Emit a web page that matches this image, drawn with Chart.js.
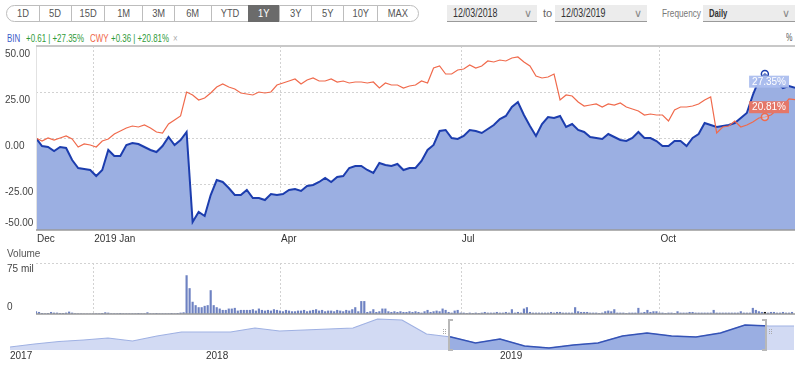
<!DOCTYPE html>
<html><head><meta charset="utf-8">
<script src="https://cdn.jsdelivr.net/npm/chart.js@4"></script>
<style>
body{margin:0;width:800px;height:365px;overflow:hidden;background:#fff;position:relative;font-family:"Liberation Sans",Arial,sans-serif;}
.abs{position:absolute;}
#btns{left:7px;top:5px;height:17px;display:flex;}
.btn{box-sizing:border-box;height:17px;border:1px solid #bdbdbd;margin-left:-1px;font-size:11px;color:#555;text-align:center;line-height:15px;background:#fff;}
.btn span{display:inline-block;transform:scaleX(0.85);transform-origin:center center;}
.btn.sel{background:#6b6b6b;color:#fff;border-color:#6b6b6b;}
.datebox{top:5px;height:17px;background:#ececec;border-bottom:1px solid #9a9a9a;box-sizing:border-box;font-size:12px;color:#333;line-height:16px;}
.datebox span.v{position:absolute;left:6px;transform:scaleX(0.74);transform-origin:left center;}
.datebox span.c{position:absolute;right:5px;color:#888;font-size:11px;}
.lg{top:31px;font-size:11px;line-height:14px;white-space:nowrap;transform:scaleX(0.72);transform-origin:left center;}
.nar{transform:scaleX(0.75);transform-origin:left center;white-space:nowrap;}
canvas{position:absolute;left:0;}
.hdl{position:absolute;box-sizing:border-box;border:2px solid #b8b8b8;}
.grip{position:absolute;width:1px;height:1px;background:#aaa;}
</style></head><body>
<div id="btns" class="abs"></div>
<div class="abs datebox" style="left:447px;width:90px;"><span class="v" id="d1"></span><span class="c">&#8744;</span></div>
<div class="abs" style="left:543px;top:5px;font-size:11px;line-height:17px;color:#666;">to</div>
<div class="abs datebox" style="left:555px;width:92px;"><span class="v" id="d2"></span><span class="c">&#8744;</span></div>
<div class="abs nar" style="left:662px;top:5px;font-size:11px;line-height:17px;color:#777;">Frequency</div>
<div class="abs datebox" style="left:703px;width:92px;"><span class="v" style="font-weight:bold;color:#333;font-size:11px;transform:scaleX(0.7);">Daily</span><span class="c">&#8744;</span></div>
<div class="abs lg" style="left:7px;color:#3b5cc8;" id="lgBin"></div>
<div class="abs lg" style="left:26px;color:#2f9b39;" id="lgBinChg"></div>
<div class="abs lg" style="left:90px;color:#ef6547;" id="lgCwy"></div>
<div class="abs lg" style="left:111px;color:#2f9b39;" id="lgCwyChg"></div>
<div class="abs lg" style="left:173px;color:#aaa;">&#215;</div>
<div class="abs lg" style="left:786px;color:#555;font-size:10px;">%</div>

<canvas id="main" width="800" height="208" style="top:40px;width:800px;height:208px;"></canvas>
<canvas id="vol" width="800" height="70" style="top:248px;width:800px;height:70px;"></canvas>
<canvas id="nav" width="800" height="49" style="top:316px;width:800px;height:49px;"></canvas>
<div id="navWrap" class="abs" style="top:316px;height:49px;overflow:hidden;">
  <canvas id="nav2" width="800" height="49" style="top:0;width:800px;height:49px;"></canvas>
</div>
<div id="hL" class="hdl" style="border-right:none;"></div>
<div id="hR" class="hdl" style="border-left:none;"></div>

<script>
// ---------- data ----------
const rangeButtons = ['1D','5D','15D','1M','3M','6M','YTD','1Y','3Y','5Y','10Y','MAX'];
const selectedRange = '1Y';
const dateFrom = '12/03/2018';
const dateTo = '12/03/2019';
const symbols = ['BIN','CWY'];
const priceChanges = ['+0.61','+0.36'];

// x axis: trading-day index; month ticks
const tickDays = [0, 19, 81, 141, 207];
const tickLabels = ['Dec', '2019 Jan', 'Apr', 'Jul', 'Oct'];
const yTicks = [-50, -25, 0, 25, 50];
const sampleStep = 2;   // trading days between samples
const lastDay = 252;
const hoverIdx = 121;

// % change since 12/03/2018, sampled every 2 trading days
const binValues = [0,-4.35,-4.89,-7.07,-4.89,-5.43,-11.96,-16.3,-16.85,-17.39,
-20.65,-17.39,-6.52,-9.78,-9.78,-3.8,-2.72,-3.26,-4.89,-6.52,
-7.61,-4.35,0.54,-3.8,-1.09,3.26,-45.65,-40.22,-42.39,-30.98,
-22.83,-23.91,-27.17,-30.98,-30.98,-28.26,-32.61,-32.61,-33.7,-30.43,
-30.98,-30.43,-28.26,-27.72,-28.8,-26.09,-25.54,-23.91,-21.74,-23.91,
-21.2,-20.65,-16.3,-15.22,-15.22,-17.39,-19.02,-13.59,-14.67,-15.22,
-14.13,-17.39,-16.3,-16.3,-12.5,-6.52,-3.8,3.8,4.35,0,
-0.54,1.09,4.35,3.8,2.72,4.89,7.07,10.33,11.96,16.85,
19.57,12.5,6.52,1.09,7.61,11.41,10.87,11.96,5.98,7.61,
4.35,3.26,0.54,0,-0.54,2.17,0.54,-1.09,-1.63,0,
3.26,0,0,-1.63,-4.35,-4.35,-1.63,-1.63,-4.35,0,
2.17,8.15,7.07,5.98,6.52,7.07,8.15,10.87,13.59,23.37,
31.52,34.78,32.07,29.89,27.17,28.26,27.35];

const cwyValues = [0,-1.63,0,-1.09,0,1.09,-0.54,-4.89,-3.26,-3.8,
-4.89,-1.63,-0.54,2.17,3.8,5.43,6.52,5.98,7.07,5.43,
3.26,2.72,7.61,9.78,11.96,25,23.37,20.65,21.74,24.46,
27.72,29.35,27.72,26.63,24.46,23.91,23.37,25,24.46,25,
28.8,29.89,30.98,32.07,29.35,31.52,32.61,30.98,30.98,32.07,
30.43,30.98,29.89,30.43,30.43,29.89,30.43,27.17,29.89,28.8,
28.8,27.17,28.26,28.8,30.98,29.89,38.04,39.13,34.78,34.78,
36.96,37.5,39.67,38.04,39.13,41.85,41.3,42.39,41.85,43.48,
44.02,41.3,39.13,33.7,32.61,33.15,34.78,20.65,23.37,22.83,
19.57,17.39,17.93,18.48,16.85,18.48,17.93,19.02,16.85,15.76,
14.67,12.5,13.04,12.5,12.5,9.24,15.22,16.85,16.85,17.39,
18.48,20.65,22.28,2.72,5.98,6.52,9.24,5.98,7.07,8.7,
10.87,11.41,12.5,15.22,17.39,21.2,20.81];

// daily volume (millions)
const volumeMil = [4,3,1.5,1,1.5,3,2,2,1.5,1.5,2,3.5,2,1,0.8,0.8,0.6,0.6,0.6,
0.8,1,1,1.5,2.5,2,1,1,1,1.5,1,1,1,1,1,1.5,1,1,2.5,1,1,1.5,1,1,1,1,1.5,1,1.5,2,2.5,
57,38,18,13,10,10,12,13,35,13,10,8,6,6,8,8,9,5,6,6,6,
6,7,5,8,6,5,6,5,7,6,5,4,6,5,4,4,5,5,6,4,5,6,7,5,6,4,5,
5,4,6,5,4,6,5,7,
10,4,19,19,3,4,
7,3,4,8,8,4,3,4,3,4,3,3,4,3,4,3,2,4,
6,3,4,5,4,8,6,3,2,5,6,
2,2,1.5,2,1.5,2,1.5,2,3,2,2,2,
3,2,2,3,2,7,2,3,2,8,10,3,2,2,2,
2,2,2,3,2,3,3,2,2,2,2,10,4,3,3,3,2,2,2,1.5,2,
4,5,4,7,2,2,2,1.5,2,2,2,
9,2,3,6,3,4,4,2,2,1.5,2,2,1.5,
4,2,2,2,3,3,2,2,2,2,2,2,6,2,2,2,2,2,2,2,2,
4,2,2,2,9,6,4,3,3,2,3,3,2,2,3,2,2,3];
const volTicks = [0, 75];
const volTickLabels = ['0', '75 mil'];

// navigator (monthly)
const navValues = [3,6,8.5,10,12,9,14,18,18,18,22,19,20,21,22,31,30,16,13,7,11,4,2,5,7,14,17,14,13,17,25,24,24];
const navYearLabels = ['2017','2018','2019'];
const navYearMonths = [0, 8, 20];
const navSelection = [17.96, 30.8];

// ---------- colors / fonts ----------
const BLUE = '#1c3dae', BLUE_FILL = '#9bafe2', ORANGE = '#f06a4c';
const FONT = '10px "Liberation Sans", Arial, sans-serif';

// ---------- HTML texts ----------
const btns = document.getElementById('btns');
const btnW = [34,33,34,39,33,38,38,32,33,33,35,42];
rangeButtons.forEach((t,i)=>{
  const d=document.createElement('div'); d.className='btn'+(t===selectedRange?' sel':'');
  d.style.width=btnW[i]+'px';
  const s=document.createElement('span'); s.textContent=t; d.appendChild(s);
  if(i===0) d.style.borderRadius='9px 0 0 9px';
  if(i===rangeButtons.length-1) d.style.borderRadius='0 9px 9px 0';
  btns.appendChild(d);
});
document.getElementById('d1').textContent=dateFrom;
document.getElementById('d2').textContent=dateTo;
document.getElementById('lgBin').textContent=symbols[0];
document.getElementById('lgCwy').textContent=symbols[1];
document.getElementById('lgBinChg').textContent=priceChanges[0]+' | +'+binValues[binValues.length-1].toFixed(2)+'%';
document.getElementById('lgCwyChg').textContent=priceChanges[1]+' | +'+cwyValues[cwyValues.length-1].toFixed(2)+'%';

// ---------- helpers ----------
function hline(ctx,x1,x2,y){ctx.beginPath();ctx.moveTo(x1,y);ctx.lineTo(x2,y);ctx.stroke();}
function vline(ctx,x,y1,y2){ctx.beginPath();ctx.moveTo(x,y1);ctx.lineTo(x,y2);ctx.stroke();}
function vgrid(ctx,chart){
  const a=chart.chartArea, x=chart.scales.x;
  ctx.strokeStyle='#d2d2d2'; ctx.lineWidth=1; ctx.setLineDash([2,2]);
  tickDays.slice(1).forEach(d=>{const px=Math.round(x.getPixelForValue(d))+0.5; vline(ctx,px,a.top,a.bottom);});
  ctx.setLineDash([]);
}
const baseOpts = {responsive:false, animation:false, events:[],
  plugins:{legend:{display:false}, tooltip:{enabled:false}}};

// ---------- main chart ----------
const mainDecor = {
  id:'mainDecor',
  beforeDatasetsDraw(chart){
    const {ctx, chartArea:a, scales:{y}} = chart;
    ctx.save();
    vgrid(ctx,chart);
    ctx.strokeStyle='#d2d2d2'; ctx.setLineDash([2,2]);
    yTicks.slice(1,-1).forEach(v=>{const py=Math.round(y.getPixelForValue(v))+0.5; hline(ctx,a.left,a.right,py);});
    ctx.setLineDash([]);
    ctx.restore();
  },
  afterDatasetsDraw(chart){
    const {ctx, chartArea:a, scales:{x,y}} = chart;
    ctx.save();
    ctx.strokeStyle='#e2e2e2'; ctx.lineWidth=1; vline(ctx,a.left+0.5,a.top,a.bottom);
    ctx.strokeStyle='#c8c8c8'; ctx.lineWidth=2; hline(ctx,a.left,a.right,a.top);
    ctx.strokeStyle='#9a9a9a'; ctx.lineWidth=1.5; hline(ctx,a.left,a.right,a.bottom);
    ctx.font=FONT; ctx.fillStyle='#444'; ctx.textAlign='left';
    yTicks.forEach(v=>{
      const py=y.getPixelForValue(v);
      if(v===yTicks[0]){ctx.textBaseline='bottom'; ctx.fillText(v.toFixed(2),5,py-2);}
      else {ctx.textBaseline='top'; ctx.fillText(v.toFixed(2),5,py+3);}
    });
    ctx.fillStyle='#333'; ctx.textBaseline='middle';
    tickDays.forEach((d,i)=>ctx.fillText(tickLabels[i], x.getPixelForValue(d)+1, a.bottom+9));
    // last value boxes
    const boxes=[{ds:1, off:-6, bg:'rgba(172,190,238,0.95)'},{ds:0, off:7.5, bg:'#e47769'}];
    boxes.forEach(b=>{
      const meta=chart.getDatasetMeta(b.ds); const pt=meta.data[meta.data.length-1];
      const vals=chart.data.datasets[b.ds].data; const txt=vals[vals.length-1].y.toFixed(2)+'%';
      const w=ctx.measureText(txt).width+6; const yc=pt.y+b.off;
      ctx.fillStyle=b.bg; ctx.fillRect(a.right-6-w, yc-6, w, 12);
      ctx.fillStyle='#fff'; ctx.textBaseline='middle'; ctx.fillText(txt, a.right-6-w+3, yc+0.5);
    });
    ctx.restore();
  }
};
new Chart(document.getElementById('main'), {
  type:'line',
  data:{datasets:[
    {label:symbols[1], data:cwyValues.map((v,i)=>({x:i*sampleStep,y:v})), borderColor:ORANGE, borderWidth:1.2,
     fill:false, tension:0, order:0,
     pointRadius:c=>c.dataIndex===hoverIdx?3.5:0, pointBorderColor:ORANGE, pointBackgroundColor:'rgba(255,255,255,0.3)', pointBorderWidth:1.5},
    {label:symbols[0], data:binValues.map((v,i)=>({x:i*sampleStep,y:v})), borderColor:BLUE, borderWidth:2,
     fill:'start', backgroundColor:BLUE_FILL, tension:0, order:1,
     pointRadius:c=>c.dataIndex===hoverIdx?3.5:0, pointBorderColor:BLUE, pointBackgroundColor:'rgba(255,255,255,0.3)', pointBorderWidth:1.5}
  ]},
  options:Object.assign({}, baseOpts, {
    layout:{padding:{left:36,right:5,top:6,bottom:18}},
    scales:{
      x:{type:'linear', min:0, max:lastDay, display:false},
      y:{type:'linear', min:yTicks[0], max:yTicks[yTicks.length-1], display:false}
    }
  }),
  plugins:[mainDecor]
});

// ---------- volume chart ----------
const volDecor = {
  id:'volDecor',
  beforeDatasetsDraw(chart){
    const {ctx, chartArea:a, scales:{y}} = chart;
    ctx.save();
    vgrid(ctx,chart);
    ctx.strokeStyle='#d2d2d2'; ctx.setLineDash([2,2]);
    hline(ctx,a.left,a.right,Math.round(y.getPixelForValue(volTicks[1]))+0.5);
    ctx.setLineDash([]);
    ctx.restore();
  },
  afterDatasetsDraw(chart){
    const {ctx, chartArea:a, scales:{y}} = chart;
    ctx.save();
    ctx.strokeStyle='#9a9a9a'; ctx.lineWidth=1.5; hline(ctx,a.left,a.right,a.bottom);
    ctx.font=FONT; ctx.fillStyle='#555'; ctx.textAlign='left'; ctx.textBaseline='middle';
    ctx.fillText('Volume',7,6);
    ctx.fillStyle='#444';
    ctx.fillText(volTickLabels[1],7,y.getPixelForValue(volTicks[1])+6);
    ctx.fillText(volTickLabels[0],7,y.getPixelForValue(volTicks[0])-7);
    ctx.restore();
  }
};
new Chart(document.getElementById('vol'), {
  type:'bar',
  data:{datasets:[{data:volumeMil.map((v,i)=>({x:i,y:v})),
    backgroundColor:c=>c.dataIndex===hoverIdx*sampleStep?'#111':'#6e82c2',
    barPercentage:0.72, categoryPercentage:1, borderWidth:0}]},
  options:Object.assign({}, baseOpts, {
    layout:{padding:{left:36,right:5,top:15,bottom:4}},
    scales:{
      x:{type:'linear', min:0, max:lastDay, display:false, offset:false},
      y:{type:'linear', min:volTicks[0], max:volTicks[1], display:false}
    }
  }),
  plugins:[volDecor]
});

// ---------- navigator ----------
function navConfig(dark, plugins){
  return {
    type:'line',
    data:{datasets:[{data:navValues.map((v,i)=>({x:i,y:v})),
      borderColor:dark?'#3553b6':'#9fb1e3', borderWidth:dark?1.5:1.2,
      backgroundColor:dark?'#9aaee2':'#d2daf3', fill:'start', pointRadius:0, tension:0}]},
    options:Object.assign({}, baseOpts, {
      layout:{padding:{left:10,right:6,top:2,bottom:15}},
      scales:{
        x:{type:'linear', min:0, max:navValues.length-1, display:false},
        y:{type:'linear', min:0, max:32, display:false}
      }
    }),
    plugins:plugins
  };
}
const navDecor = {
  id:'navDecor',
  afterDatasetsDraw(chart){
    const {ctx, chartArea:a, scales:{x}} = chart;
    ctx.save();
    ctx.font=FONT; ctx.fillStyle='#333'; ctx.textAlign='left'; ctx.textBaseline='middle';
    navYearMonths.forEach((m,i)=>ctx.fillText(navYearLabels[i], x.getPixelForValue(m), a.bottom+6));
    ctx.restore();
  }
};
const navChart = new Chart(document.getElementById('nav'), navConfig(false,[navDecor]));
new Chart(document.getElementById('nav2'), navConfig(true,[]));
const nx = navChart.scales.x, na = navChart.chartArea;
const sx0 = Math.round(nx.getPixelForValue(navSelection[0]));
const sx1 = Math.round(nx.getPixelForValue(navSelection[1]));
const wrap = document.getElementById('navWrap');
wrap.style.left = sx0+'px'; wrap.style.width = (sx1-sx0)+'px';
document.getElementById('nav2').style.left = (-sx0)+'px';
const top0 = 316 + na.top + 1, hh = na.bottom - na.top;
const hL = document.getElementById('hL'), hR = document.getElementById('hR');
Object.assign(hL.style,{left:(sx0-2)+'px', top:top0+'px', width:'5px', height:hh+'px'});
Object.assign(hR.style,{left:(sx1-3)+'px', top:top0+'px', width:'5px', height:hh+'px'});
[[sx0-7],[sx1+4]].forEach(([gx])=>{
  for(let r=0;r<3;r++) for(let c=0;c<2;c++){
    const g=document.createElement('div'); g.className='grip';
    g.style.left=(gx+c*2)+'px'; g.style.top=(top0+10+r*2)+'px'; document.body.appendChild(g);
  }
});
</script>
</body></html>
